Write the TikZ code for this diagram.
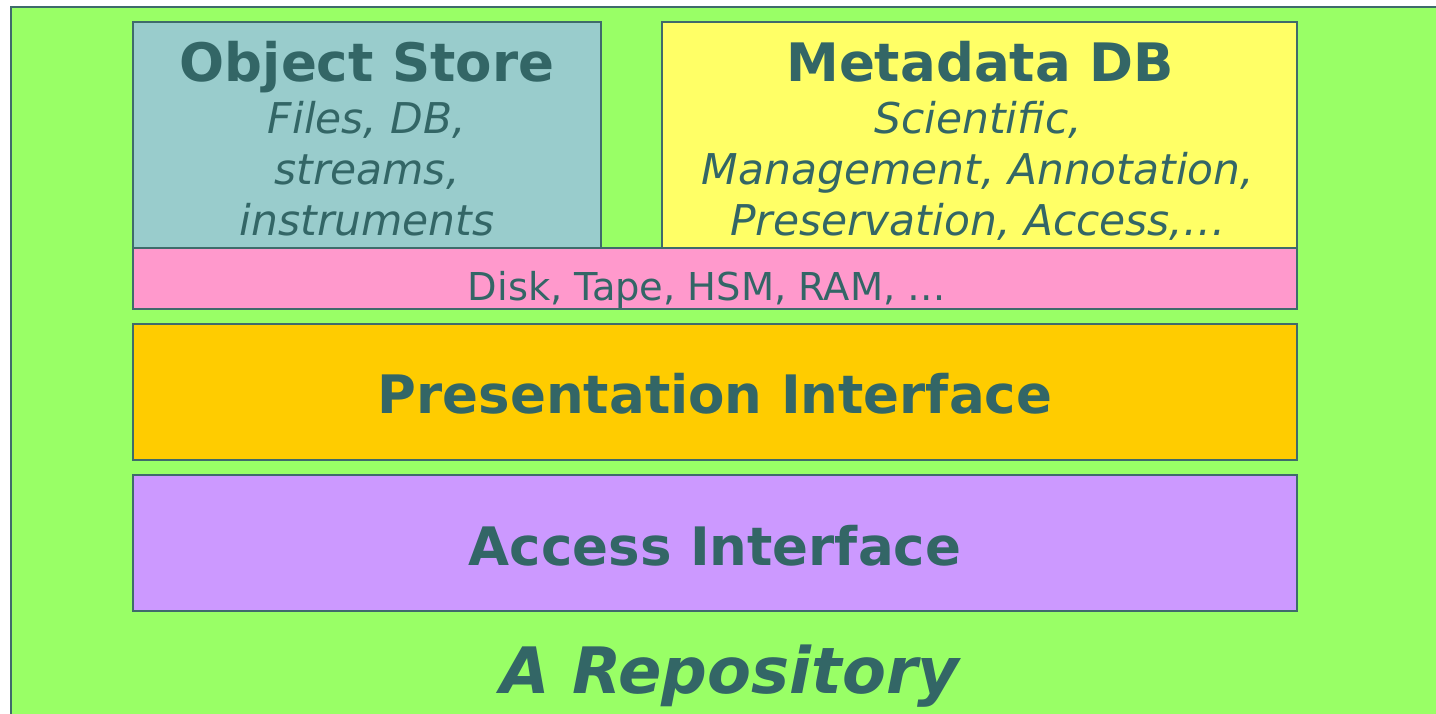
\documentclass[tikz,border=0pt]{standalone}
\usepackage{fontspec}
\setmainfont{DejaVu Sans}
\definecolor{bggreen}{HTML}{99FF66}
\definecolor{objblue}{HTML}{99CCCC}
\definecolor{metayel}{HTML}{FFFF66}
\definecolor{diskpink}{HTML}{FF99CC}
\definecolor{presor}{HTML}{FFCC00}
\definecolor{accpur}{HTML}{CC99FF}
\definecolor{txt}{HTML}{336666}
\definecolor{edge}{HTML}{3F6B6B}
\begin{document}
\begin{tikzpicture}[x=0.5pt,y=-0.5pt,
  box/.style={draw=edge,line width=1.2pt},
  title/.style={text=txt,font=\bfseries\fontsize{26.5}{30}\selectfont,inner sep=0pt,anchor=base},
  sub/.style={text=txt,font=\itshape\fontsize{21.2}{25.5}\selectfont,align=center,inner sep=0pt,anchor=base},
  plain/.style={text=txt,font=\fontsize{19.2}{22}\selectfont,inner sep=0pt,anchor=base}]
\useasboundingbox (0,0) rectangle (1436,713);
\clip (0,0) rectangle (1436,713);
\fill[white] (0,0) rectangle (1436,713);
\draw[box,fill=bggreen] (11,7) rectangle (1450,730);
\draw[box,fill=objblue] (133,22) rectangle (601,248);
\draw[box,fill=metayel] (662,22) rectangle (1297,248);
\draw[box,fill=diskpink] (133,248) rectangle (1297,309);
\draw[box,fill=presor] (133,324) rectangle (1297,460);
\draw[box,fill=accpur] (133,475) rectangle (1297,611);
\node[title] (objt) at (367,81) {Object Store};
\node[sub] (objs) at (367,235) {Files, DB,\\streams,\\instruments};
\node[title] (metat) at (980,81) {Metadata DB};
\node[sub] (metas) at (978,235) {Scientific,\\Management, Annotation,\\Preservation, Access,…};
\node[plain] (disk) at (707,300) {Disk, Tape, HSM, RAM, …};
\node[title] (pres) at (715,413) {Presentation Interface};
\node[title] (acc) at (715,565) {Access Interface};
\node[title,font=\bfseries\itshape\fontsize{32}{36}\selectfont] (repo) at (730,693) {A Repository};
\end{tikzpicture}
\end{document}
